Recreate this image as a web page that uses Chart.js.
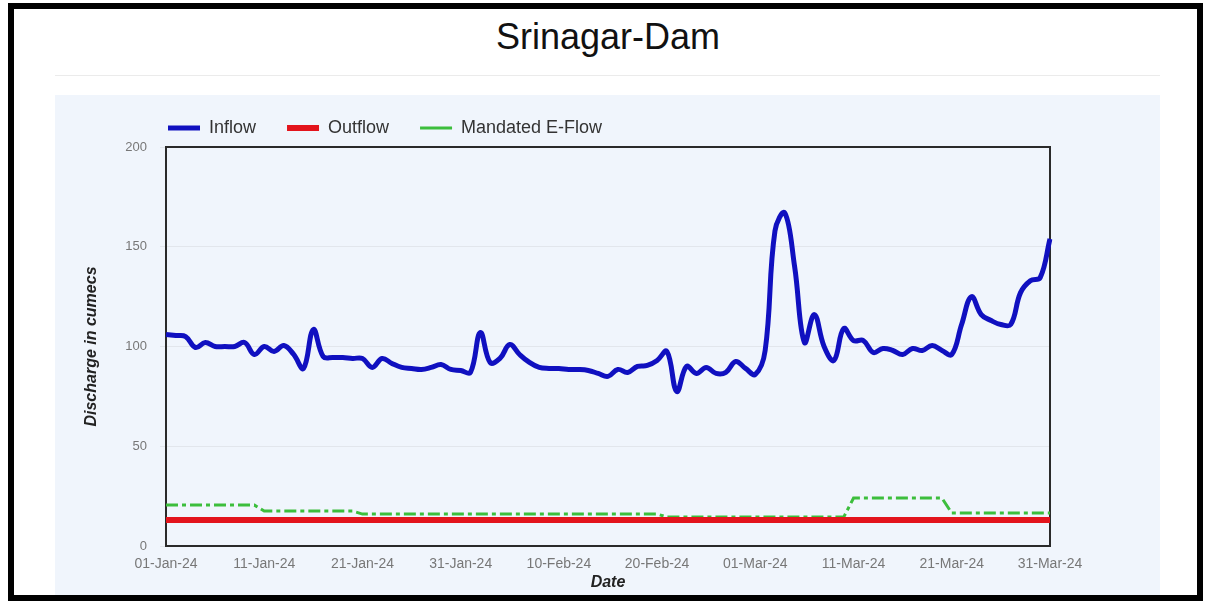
<!DOCTYPE html>
<html>
<head>
<meta charset="utf-8">
<title>Srinagar-Dam</title>
<script src="https://cdn.jsdelivr.net/npm/chart.js@4.4.1/dist/chart.umd.min.js"></script>
<style>
  body { margin: 0; background: #fff; font-family: "Liberation Sans", Arial, sans-serif; }
  .title { position: absolute; left: 0; top: 19px; width: 1216px; text-align: center; font-size: 36px; line-height: 36px; color: #111; }
  .rule { position: absolute; left: 55px; top: 75px; width: 1105px; height: 1px; background: #ebebeb; }
  .panel { position: absolute; left: 55px; top: 95px; width: 1105px; height: 500px; background: #f0f5fc; }
  .frame { position: absolute; left: 8px; top: 3px; width: 1195px; height: 598px; box-sizing: border-box; border: 6px solid #000; }
</style>
</head>
<body>
<div class="title">Srinagar-Dam</div>
<div class="rule"></div>
<div class="panel"><canvas id="damChart" width="1105" height="500"></canvas></div>
<div class="frame"></div>
<script>
document.addEventListener('DOMContentLoaded', function() {
    // Dates 01-Jan-24 .. 31-Mar-24
    const months = ['Jan', 'Feb', 'Mar'];
    const monthDays = [31, 29, 31];
    const dates = [];
    months.forEach(function(m, i) {
        for (let d = 1; d <= monthDays[i]; d++) {
            dates.push(String(d).padStart(2, '0') + '-' + m + '-24');
        }
    });

    const tickLabels = ['01-Jan-24', '11-Jan-24', '21-Jan-24', '31-Jan-24', '10-Feb-24',
        '20-Feb-24', '01-Mar-24', '11-Mar-24', '21-Mar-24', '31-Mar-24'];
    const yTicks = [0, 50, 100, 150, 200];

    const inflow = [
        106, 105.5, 105, 99.5, 102, 100, 100, 100, 102, 96,
        100, 97.5, 100.5, 96, 89, 108.5, 95, 94.5, 94.5, 94,
        94, 89.5, 94, 91.5, 89.5, 89, 88.5, 89.5, 91, 88.5,
        88, 87, 107, 92, 94, 101, 96, 92, 89.5, 89,
        89, 88.5, 88.5, 88, 86.5, 85, 88.5, 87, 90, 90.5,
        93, 97.5, 77.5, 90, 86.5, 89.5, 86.5, 87, 92.5, 89,
        86, 98, 158, 167, 140, 102, 116, 100, 93, 109,
        103, 103, 97, 99, 98, 96, 99, 98, 100.5, 98,
        96, 111, 125, 116, 113, 111, 111, 127, 133, 134.5,
        154
    ];
    const outflow = [
        13, 13, 13, 13, 13, 13, 13, 13, 13, 13,
        13, 13, 13, 13, 13, 13, 13, 13, 13, 13,
        13, 13, 13, 13, 13, 13, 13, 13, 13, 13,
        13, 13, 13, 13, 13, 13, 13, 13, 13, 13,
        13, 13, 13, 13, 13, 13, 13, 13, 13, 13,
        13, 13, 13, 13, 13, 13, 13, 13, 13, 13,
        13, 13, 13, 13, 13, 13, 13, 13, 13, 13,
        13, 13, 13, 13, 13, 13, 13, 13, 13, 13,
        13, 13, 13, 13, 13, 13, 13, 13, 13, 13,
        13
    ];
    const eflow = [
        20.5, 20.5, 20.5, 20.5, 20.5, 20.5, 20.5, 20.5, 20.5, 20.5,
        17.5, 17.5, 17.5, 17.5, 17.5, 17.5, 17.5, 17.5, 17.5, 17.5,
        16, 16, 16, 16, 16, 16, 16, 16, 16, 16,
        16, 16, 16, 16, 16, 16, 16, 16, 16, 16,
        16, 16, 16, 16, 16, 16, 16, 16, 16, 16,
        16, 14.5, 14.5, 14.5, 14.5, 14.5, 14.5, 14.5, 14.5, 14.5,
        14.5, 14.5, 14.5, 14.5, 14.5, 14.5, 14.5, 14.5, 14.5, 14.5,
        24, 24, 24, 24, 24, 24, 24, 24, 24, 24,
        16.5, 16.5, 16.5, 16.5, 16.5, 16.5, 16.5, 16.5, 16.5, 16.5,
        16.5
    ];

    // box round the plot area
    const plotFrame = {
        id: 'plotFrame',
        beforeDatasetsDraw(chart) {
            const ctx = chart.ctx;
            const a = chart.chartArea;
            ctx.save();
            ctx.strokeStyle = '#2a2a2a';
            ctx.lineWidth = 2;
            ctx.strokeRect(a.left, a.top, a.right - a.left, a.bottom - a.top);
            ctx.restore();
        }
    };

    // start legend at the plot's left edge
    const legendShift = {
        id: 'legendShift',
        afterLayout(chart) {
            const pad = chart.options.plugins.legend.labels.padding;
            chart.legend.left = chart.chartArea.left - pad + 2;
        }
    };

    const ctx = document.getElementById('damChart').getContext('2d');
    const damChart = new Chart(ctx, {
        type: 'line',
        data: {
            labels: dates,
            datasets: [{
                label: 'Inflow',
                data: inflow,
                borderColor: '#1010c0',
                backgroundColor: '#1010c0',
                borderWidth: 5,
                tension: 0.4,
                pointRadius: 0
            }, {
                label: 'Outflow',
                data: outflow,
                borderColor: '#e3141c',
                backgroundColor: '#e3141c',
                borderWidth: 6,
                tension: 0,
                pointRadius: 0
            }, {
                label: 'Mandated E-Flow',
                data: eflow,
                borderColor: '#3cbe3c',
                backgroundColor: '#3cbe3c',
                borderWidth: 3,
                borderDash: [12, 4, 4, 4],
                tension: 0,
                pointRadius: 0
            }]
        },
        options: {
            responsive: false,
            animation: false,
            layout: {
                padding: { left: 23, right: 110, top: -7, bottom: 1 }
            },
            plugins: {
                legend: {
                    position: 'top',
                    align: 'start',
                    fullSize: false,
                    maxHeight: 62,
                    labels: {
                        usePointStyle: true,
                        pointStyle: 'line',
                        pointStyleWidth: 32,
                        padding: 31,
                        color: '#333',
                        font: { family: '"Liberation Sans", Arial, sans-serif', size: 18 }
                    }
                },
                tooltip: { enabled: false }
            },
            scales: {
                x: {
                    afterFit: function(scale) { scale.height = 48; },
                    grid: { display: false, drawTicks: false },
                    border: { display: false },
                    ticks: {
                        autoSkip: false,
                        maxRotation: 0,
                        minRotation: 0,
                        padding: 10,
                        color: '#777',
                        font: { family: '"Liberation Sans", Arial, sans-serif', size: 14 },
                        callback: function(value, index) {
                            const l = dates[index];
                            return tickLabels.includes(l) ? l : '';
                        }
                    },
                    title: {
                        display: true,
                        text: 'Date',
                        color: '#222',
                        padding: { top: 3, bottom: 2 },
                        font: { family: '"Liberation Sans", Arial, sans-serif', size: 16, weight: 'bold', style: 'italic' }
                    }
                },
                y: {
                    min: yTicks[0],
                    max: yTicks[yTicks.length - 1],
                    afterFit: function(scale) { scale.width = 88; },
                    grid: { color: '#e2e6ec', tickLength: 6 },
                    border: { display: false },
                    ticks: {
                        stepSize: yTicks[1] - yTicks[0],
                        padding: 13,
                        color: '#777',
                        font: { family: '"Liberation Sans", Arial, sans-serif', size: 13 }
                    },
                    title: {
                        display: true,
                        text: 'Discharge in cumecs',
                        color: '#222',
                        padding: { top: 4, bottom: 4 },
                        font: { family: '"Liberation Sans", Arial, sans-serif', size: 16, weight: 'bold', style: 'italic' }
                    }
                }
            }
        },
        plugins: [plotFrame, legendShift]
    });
});
</script>
</body>
</html>
